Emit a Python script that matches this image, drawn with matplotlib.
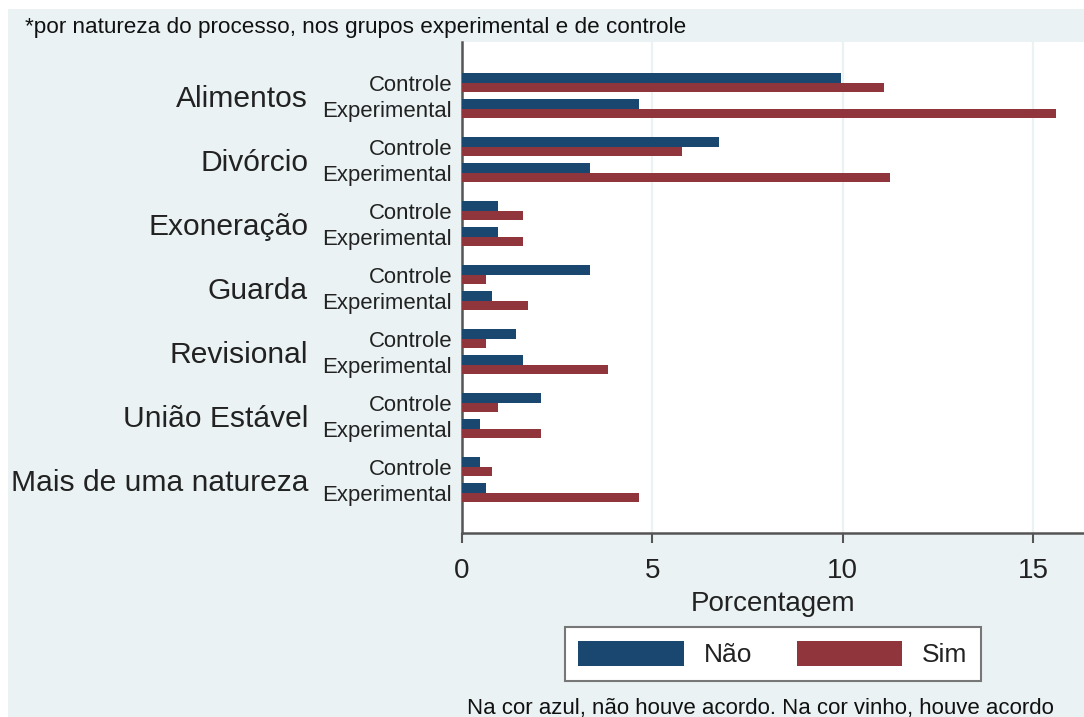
import numpy as np
import matplotlib
matplotlib.use('Agg')
from matplotlib import pyplot as plt
from matplotlib.patches import Rectangle, Patch

plt.rcParams['font.family'] = ['Liberation Sans', 'DejaVu Sans']

# dados: porcentagem por natureza do processo
naturezas = ['Alimentos', 'Divórcio', 'Exoneração', 'Guarda', 'Revisional',
             'União Estável', 'Mais de uma natureza']
grupos = ['Controle', 'Experimental']

nao_controle = [9.95, 6.75, 0.94, 3.35, 1.43, 2.07, 0.48]
sim_controle = [11.08, 5.77, 1.60, 0.63, 0.63, 0.94, 0.78]
nao_experimental = [4.66, 3.35, 0.94, 0.78, 1.60, 0.48, 0.63]
sim_experimental = [15.60, 11.24, 1.60, 1.74, 3.83, 2.07, 4.66]

azul = '#1a476f'
vinho = '#90353b'
fundo = '#eaf2f3'

W, H = 1084, 717
fig = plt.figure(figsize=(W / 100, H / 100), dpi=100)
fig.patch.set_facecolor('white')
fig.patches.append(Rectangle((8 / W, 0), 1, 1 - 9 / H, transform=fig.transFigure,
                             facecolor=fundo, edgecolor='none', zorder=-5))

ax = fig.add_axes([462 / W, 1 - 533 / H, 1 - 462 / W, (533 - 42) / H])
ax.set_facecolor('white')
ax.set_zorder(2)

# posicoes (em unidades de grupo)
bh = 9.6 / 64
off_exp = 26 / 64
g = np.arange(len(naturezas))
y_c = g + bh / 2
y_e = g + off_exp + bh / 2

ax.barh(y_c, nao_controle, height=bh, color=azul, zorder=3)
ax.barh(y_c + bh, sim_controle, height=bh, color=vinho, zorder=3)
ax.barh(y_e, nao_experimental, height=bh, color=azul, zorder=3)
ax.barh(y_e + bh, sim_experimental, height=bh, color=vinho, zorder=3)

ax.set_ylim((533 - 73) / 64, (42 - 73) / 64)
x_max = (W - 462) / ((1033 - 462) / 15)
ax.set_xlim(0, x_max)

ax.set_xticks([0, 5, 10, 15])
ax.tick_params(axis='x', labelsize=20, length=7, width=1.5, color='#555555',
               pad=11, labelcolor='#222222')
ax.set_yticks([])
ax.grid(axis='x', color=fundo, linewidth=1.6, zorder=0)

for s in ['top', 'right']:
    ax.spines[s].set_visible(False)
for s in ['left', 'bottom']:
    ax.spines[s].set_color('#555555')
    ax.spines[s].set_linewidth(1.8)

ax.set_xlabel('Porcentagem', fontsize=20, color='#222222', labelpad=5)

# rotulos dos grupos e das naturezas
dy = 2.5 / 64
for i, nome in enumerate(naturezas):
    ax.text(-154 / 38.07, y_c[i] + bh / 2 + off_exp / 2 + 1.5 * dy, nome, ha='right',
            va='center', fontsize=21.6, color='#222222')
    ax.text(-10 / 38.07, y_c[i] + bh / 2 + dy, grupos[0], ha='right', va='center',
            fontsize=15.9, color='#222222')
    ax.text(-10 / 38.07, y_e[i] + bh / 2 + dy, grupos[1], ha='right', va='center',
            fontsize=15.9, color='#222222')

leg = fig.legend(handles=[Patch(facecolor=azul, label='Não'),
                          Patch(facecolor=vinho, label='Sim')],
                 loc='center', bbox_to_anchor=(773 / W, 1 - 654 / H), ncol=2,
                 fontsize=19, handlelength=4.0, handleheight=1.1,
                 handletextpad=0.75, columnspacing=1.7, borderpad=0.5,
                 fancybox=False, framealpha=1, edgecolor='#777777')
leg.get_frame().set_linewidth(1.5)
for t in leg.get_texts():
    t.set_color('#222222')

fig.text(25 / W, 1 - 27 / H, '*por natureza do processo, nos grupos experimental e de controle',
         ha='left', va='center', fontsize=16.2, color='#111111')
fig.text(760 / W, 1 - 714 / H, 'Na cor azul, não houve acordo. Na cor vinho, houve acordo',
         ha='center', va='baseline', fontsize=16, color='#111111')

fig.savefig('out.png', dpi=100)
